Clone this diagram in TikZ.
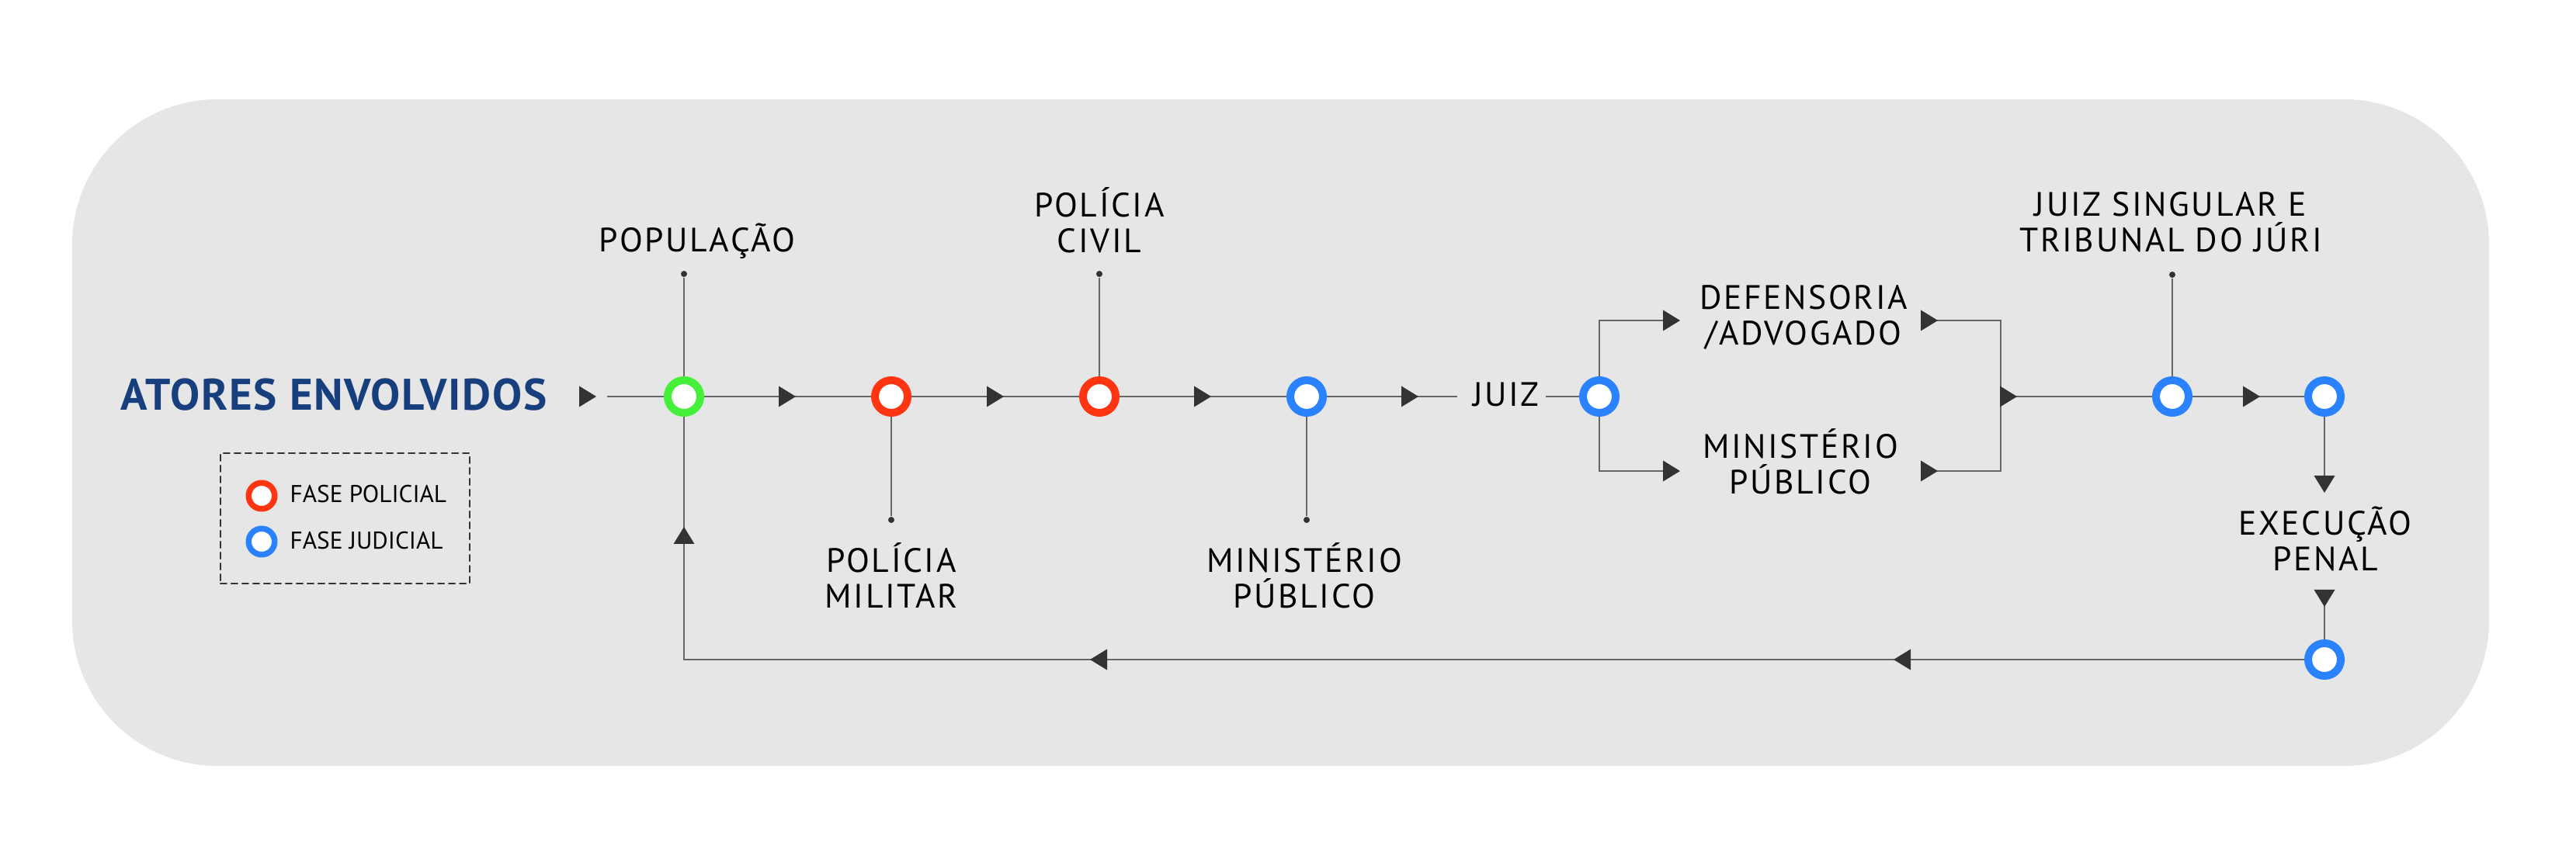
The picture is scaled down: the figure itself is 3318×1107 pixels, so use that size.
\documentclass[tikz,border=0pt]{standalone}
\usepackage{fontspec}
\setmainfont{PT Sans}
\newfontfamily\rotfont[LetterSpace=6]{PT Sans}
\newfontfamily\titfont[LetterSpace=3]{PT Sans}
\usetikzlibrary{backgrounds}
\definecolor{fundo}{HTML}{E6E6E6}
\definecolor{linha}{HTML}{666666}
\definecolor{seta}{HTML}{333333}
\definecolor{policial}{HTML}{FF3411}
\definecolor{judicial}{HTML}{2B82FF}
\definecolor{popverde}{HTML}{45F03A}
\definecolor{titulo}{HTML}{173F7E}
\tikzset{
  anel/.style={circle,draw=#1,line width=0.1cm,fill=white,minimum size=0.42cm,inner sep=0pt},
  anelleg/.style={circle,draw=#1,line width=0.075cm,fill=white,minimum size=0.335cm,inner sep=0pt},
  ponto/.style={circle,fill=seta,minimum size=0.08cm,inner sep=0pt},
  rotulo/.style={align=center,anchor=base,inner sep=0pt},
  fluxo/.style={draw=linha,line width=0.5pt},
  ponta/.pic={\fill[seta] (-11,-13.5)--(11,0)--(-11,13.5)--cycle;}
}
\begin{document}
\begin{tikzpicture}[x=0.01cm,y=-0.01cm,font=\rotfont\fontsize{12.4}{13.1}\selectfont,line join=round,line cap=round]
\useasboundingbox (0,0) rectangle (3318,1107);
\path
(782,511)coordinate(ini)
(2153,413)coordinate(dsup)
(2153,607)coordinate(dinf)
(2485,413)coordinate(esup)
(2485,607)coordinate(einf)
(2577,413)coordinate(jsup)
(2577,607)coordinate(jinf)
(2577,511)coordinate(junta)
(2994,624)coordinate(execsup)
(2994,771)coordinate(execinf)
;
\node[anel=popverde] (pop) at (881,511) {};
\node[anel=policial] (pm) at (1148,511) {};
\node[anel=policial] (pc) at (1416,511) {};
\node[anel=judicial] (mp) at (1683,511) {};
\node[anel=judicial] (jz) at (2060,511) {};
\node[anel=judicial] (jt) at (2798,511) {};
\node[anel=judicial] (ex) at (2994,511) {};
\node[anel=judicial] (bt) at (2994,850) {};
\foreach \n/\x/\y in {dpop/881/353,dpc/1416/353,djt/2798/354,dpm/1148/670,dmp/1683/670}
  \node[ponto] (\n) at (\x,\y) {};
\node[rotulo] (juiz) at (1940,524) {JUIZ};
\node[rotulo] (lpop) at (898,325) {POPULAÇÃO};
\node[rotulo] (lpc) at (1416,326) {POLÍCIA\\CIVIL};
\node[rotulo] (ljt) at (2796,325) {JUIZ SINGULAR E\\TRIBUNAL DO JÚRI};
\node[rotulo] (lpm) at (1148,784) {POLÍCIA\\MILITAR};
\node[rotulo] (lmp) at (1680,784) {MINISTÉRIO\\PÚBLICO};
\node[rotulo] (ldef) at (2323,445) {DEFENSORIA\\/ADVOGADO};
\node[rotulo] (lmpb) at (2319,637) {MINISTÉRIO\\PÚBLICO};
\node[rotulo] (lex) at (2995,736) {EXECUÇÃO\\PENAL};
\node[anchor=base,inner sep=0pt,text=titulo,font=\titfont\fontsize{16.2}{16}\bfseries\selectfont] (tit) at (430,529) {ATORES ENVOLVIDOS};
\node[draw=seta,dashed,dash pattern=on 0.08cm off 0.06cm,line width=0.6pt,minimum width=3.21cm,minimum height=1.68cm,inner sep=0pt] (legenda) at (444.5,668) {};
\node[anelleg=policial] (lgpol) at (337,639) {};
\node[anelleg=judicial] (lgjud) at (337,698) {};
\node[anchor=base west,inner sep=0pt,font=\fontsize{8.9}{9}\selectfont] (tpol) at (373,648) {FASE POLICIAL};
\node[anchor=base west,inner sep=0pt,font=\fontsize{8.9}{9}\selectfont] (tjud) at (373,708) {FASE JUDICIAL};
\foreach \x/\y/\a in {757/511/0,1014/511/0,1282/511/0,1549/511/0,1816/511/0,2153/413/0,2153/607/0,2485/413/0,2485/607/0,2587/511/0,2900/511/0,2994/624/-90,2994/771/-90,2450/850/180,1415/850/180,881/690/90}
  \pic[rotate=\a] at (\x,\y) {ponta};
\begin{scope}[on background layer]
\fill[white] (0,0) rectangle (3318,1107);
\fill[fundo,rounded corners=1.87cm] (93,128) rectangle (3206,987);
\draw[fluxo] (ini) -- (pop) -- (pm) -- (pc) -- (mp);
\draw[fluxo,shorten >=0.2cm] (mp) -- (juiz.west |- mp);
\draw[fluxo,shorten <=0.08cm] (juiz.east |- jz) -- (jz);
\draw[fluxo] (jz) |- (dsup);
\draw[fluxo] (jz) |- (dinf);
\draw[fluxo] (esup) -- (jsup) -- (jinf) -- (einf);
\draw[fluxo] (junta) -- (jt) -- (ex);
\draw[fluxo] (ex) -- (execsup);
\draw[fluxo] (execinf) -- (bt);
\draw[fluxo] (bt) -| (pop);
\foreach \d/\r in {dpop/pop,dpc/pc,djt/jt,dpm/pm,dmp/mp}
  \draw[fluxo] (\d) -- (\r);
\end{scope}
\end{tikzpicture}
\end{document}
